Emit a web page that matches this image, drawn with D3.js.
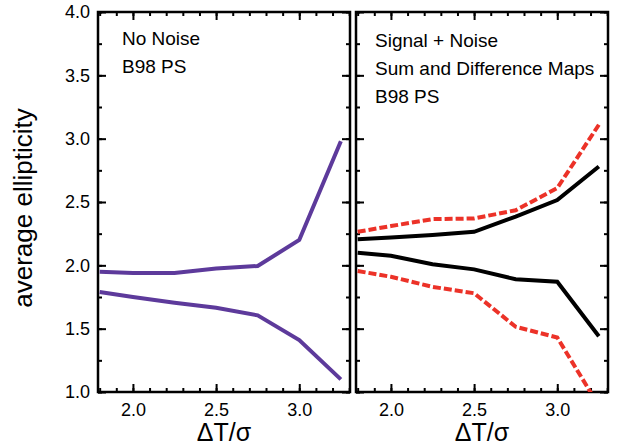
<!DOCTYPE html>
<html>
<head>
<meta charset="utf-8">
<script src="https://cdn.jsdelivr.net/npm/d3@7"></script>
<style>
  body { margin: 0; background: #fff; }
  text { font-family: "Liberation Sans", Arial, sans-serif; fill: #000; }
</style>
</head>
<body>
<div id="chart"></div>
<script>
// data
var dT = [1.8, 2.0, 2.25, 2.5, 2.75, 3.0, 3.25];

// left panel: no noise
var noNoiseUpper = [1.95, 1.94, 1.94, 1.975, 1.995, 2.2, 2.98];
var noNoiseLower = [1.79, 1.75, 1.705, 1.665, 1.605, 1.41, 1.10];

// right panel: signal + noise
var sigUpper = [2.205, 2.22, 2.24, 2.265, 2.385, 2.515, 2.78];
var sigLower = [2.10, 2.076, 2.008, 1.968, 1.89, 1.87, 1.44];
var diffUpper = [2.265, 2.31, 2.365, 2.37, 2.435, 2.61, 3.11];
var diffLower = [1.955, 1.91, 1.83, 1.78, 1.515, 1.43, 0.89];

var xMajor = [2.0, 2.5, 3.0];
var yMajor = [1.0, 1.5, 2.0, 2.5, 3.0, 3.5, 4.0];

var leftText = ["No Noise", "B98 PS"];
var rightText = ["Signal + Noise", "Sum and Difference Maps", "B98 PS"];

var W = 618, H = 445;
var padTop = 12, pw = 252, ph = 380;
var panelX = [98, 356];

var svg = d3.select("#chart").append("svg")
  .attr("width", W)
  .attr("height", H);

var x = d3.scaleLinear().domain([1.79, 3.305]).range([0, pw]);
var y = d3.scaleLinear().domain([1, 4]).range([ph, 0]);

var xMinor = d3.range(1.8, 3.31, 0.1).map(function(d) { return +d.toFixed(1); });
var yMinor = d3.range(1.0, 4.01, 0.25);

var line = d3.line()
  .x(function(d, i) { return x(dT[i]); })
  .y(function(d) { return y(d); });

function drawPanel(px, id, labels) {
  var g = svg.append("g").attr("transform", "translate(" + px + "," + padTop + ")");

  g.append("clipPath").attr("id", id)
    .append("rect").attr("width", pw).attr("height", ph);

  // minor ticks, all four sides, pointing in
  g.append("g").attr("class", "ax").attr("transform", "translate(0," + ph + ")")
    .call(d3.axisBottom(x).tickValues(xMinor).tickSize(-4).tickFormat(""));
  g.append("g").attr("class", "ax")
    .call(d3.axisTop(x).tickValues(xMinor).tickSize(-4).tickFormat(""));
  g.append("g").attr("class", "ax")
    .call(d3.axisLeft(y).tickValues(yMinor).tickSize(-4).tickFormat(""));
  g.append("g").attr("class", "ax").attr("transform", "translate(" + pw + ",0)")
    .call(d3.axisRight(y).tickValues(yMinor).tickSize(-4).tickFormat(""));

  // major ticks
  g.append("g").attr("class", "ax").attr("transform", "translate(0," + ph + ")")
    .call(d3.axisBottom(x).tickValues(xMajor).tickSize(-8).tickPadding(11).tickFormat(d3.format(".1f")));
  g.append("g").attr("class", "ax")
    .call(d3.axisTop(x).tickValues(xMajor).tickSize(-8).tickFormat(""));
  g.append("g").attr("class", "ax")
    .call(d3.axisLeft(y).tickValues(yMajor).tickSize(-8).tickPadding(8)
      .tickFormat(labels ? d3.format(".1f") : ""));
  g.append("g").attr("class", "ax").attr("transform", "translate(" + pw + ",0)")
    .call(d3.axisRight(y).tickValues(yMajor).tickSize(-8).tickFormat(""));

  g.selectAll(".ax .domain").remove();
  g.selectAll(".ax line").attr("stroke", "#000").attr("stroke-width", 2);
  g.selectAll(".ax text").style("font-size", "18px").attr("fill", "#000");

  // frame
  g.append("rect")
    .attr("width", pw).attr("height", ph)
    .attr("fill", "none").attr("stroke", "#000").attr("stroke-width", 2.5);

  // x label
  g.append("text")
    .attr("x", pw / 2).attr("y", H - padTop - 4)
    .attr("text-anchor", "middle")
    .style("font-size", "25px")
    .text("\u0394T/\u03c3");

  return g.append("g").attr("clip-path", "url(#" + id + ")");
}

var leftPlot = drawPanel(panelX[0], "clipL", true);
var rightPlot = drawPanel(panelX[1], "clipR", false);

[noNoiseUpper, noNoiseLower].forEach(function(s) {
  leftPlot.append("path").datum(s)
    .attr("d", line).attr("fill", "none")
    .attr("stroke", "#5d3a9b").attr("stroke-width", 4);
});

[diffUpper, diffLower].forEach(function(s) {
  rightPlot.append("path").datum(s)
    .attr("d", line).attr("fill", "none")
    .attr("stroke", "#ec3228").attr("stroke-width", 4)
    .attr("stroke-dasharray", "8,3");
});

[sigUpper, sigLower].forEach(function(s) {
  rightPlot.append("path").datum(s)
    .attr("d", line).attr("fill", "none")
    .attr("stroke", "#000").attr("stroke-width", 4);
});

// panel notes
svg.append("g").selectAll("text").data(leftText).enter().append("text")
  .attr("x", panelX[0] + 24)
  .attr("y", function(d, i) { return 45 + i * 28; })
  .style("font-size", "19px")
  .text(function(d) { return d; });

svg.append("g").selectAll("text").data(rightText).enter().append("text")
  .attr("x", panelX[1] + 19)
  .attr("y", function(d, i) { return 47 + i * 28; })
  .style("font-size", "19px")
  .text(function(d) { return d; });

// y label
svg.append("text")
  .attr("transform", "translate(32,208) rotate(-90)")
  .attr("text-anchor", "middle")
  .style("font-size", "26px")
  .text("average ellipticity");
</script>
</body>
</html>
